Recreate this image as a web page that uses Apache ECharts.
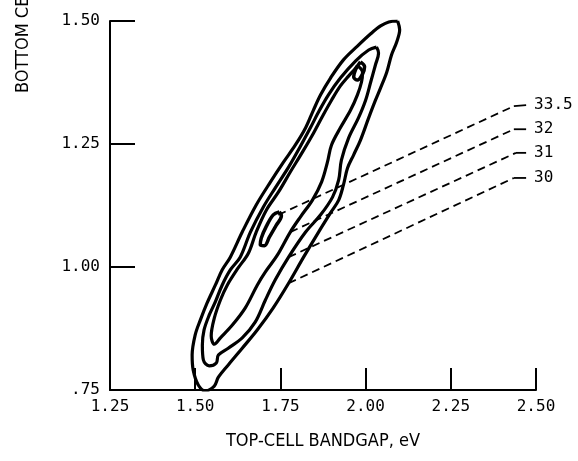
<!DOCTYPE html>
<html>
<head>
<meta charset="utf-8">
<script src="https://cdn.jsdelivr.net/npm/echarts@6/dist/echarts.min.js"></script>
<style>
html,body{margin:0;padding:0;background:#fff;}
#chart{width:578px;height:461px;}
</style>
</head>
<body>
<div id="chart"></div>
<script>
// Axis ticks
const xTickValues = [1.25, 1.50, 1.75, 2.00, 2.25, 2.50];
const xTickLabels = ['1.25', '1.50', '1.75', '2.00', '2.25', '2.50'];
const yTickValues = [0.75, 1.00, 1.25, 1.50];
const yTickLabels = ['.75', '1.00', '1.25', '1.50'];

// Efficiency contour levels (%)
const levels = ['33.5', '32', '31', '30'];

// Contour 30 (outer) [top-cell eV, bottom-cell eV]
const contour30 = [[2.094,1.500],[2.100,1.482],[2.091,1.457],[2.076,1.431],[2.062,1.396],[2.044,1.364],[2.029,1.339],[2.009,1.303],[1.985,1.258],[1.965,1.228],[1.947,1.201],[1.935,1.167],[1.921,1.136],[1.897,1.110],[1.862,1.071],[1.818,1.020],[1.774,0.967],[1.729,0.917],[1.682,0.872],[1.638,0.835],[1.597,0.801],[1.568,0.776],[1.556,0.758],[1.529,0.748],[1.509,0.760],[1.494,0.791],[1.491,0.821],[1.500,0.862],[1.515,0.892],[1.535,0.927],[1.559,0.963],[1.579,0.994],[1.603,1.020],[1.638,1.071],[1.679,1.126],[1.721,1.173],[1.759,1.213],[1.794,1.248],[1.824,1.283],[1.847,1.319],[1.868,1.350],[1.897,1.384],[1.935,1.421],[1.976,1.449],[2.015,1.474],[2.044,1.490],[2.068,1.498],[2.094,1.500]];

// Contour 31
const contour31 = [[2.032,1.447],[2.038,1.435],[2.029,1.411],[2.015,1.376],[2.000,1.339],[1.979,1.303],[1.950,1.262],[1.929,1.217],[1.921,1.177],[1.903,1.142],[1.868,1.106],[1.824,1.071],[1.774,1.020],[1.735,0.974],[1.706,0.933],[1.676,0.888],[1.638,0.856],[1.597,0.835],[1.568,0.821],[1.562,0.805],[1.541,0.799],[1.524,0.811],[1.521,0.841],[1.526,0.872],[1.541,0.902],[1.559,0.929],[1.579,0.963],[1.603,0.994],[1.632,1.020],[1.662,1.071],[1.700,1.122],[1.735,1.161],[1.774,1.203],[1.806,1.242],[1.838,1.283],[1.865,1.319],[1.891,1.350],[1.926,1.384],[1.971,1.419],[2.009,1.441],[2.032,1.447]];

// Contour 32
const contour32 = [[1.976,1.409],[1.991,1.396],[1.988,1.376],[1.976,1.350],[1.956,1.319],[1.926,1.283],[1.900,1.248],[1.888,1.213],[1.871,1.173],[1.844,1.136],[1.809,1.102],[1.779,1.071],[1.741,1.024],[1.706,0.990],[1.682,0.963],[1.647,0.917],[1.609,0.882],[1.574,0.856],[1.556,0.843],[1.547,0.860],[1.556,0.896],[1.574,0.933],[1.594,0.963],[1.626,0.998],[1.656,1.028],[1.679,1.071],[1.709,1.116],[1.744,1.152],[1.779,1.193],[1.815,1.234],[1.847,1.272],[1.874,1.307],[1.900,1.339],[1.926,1.368],[1.950,1.388],[1.968,1.402],[1.976,1.409]];

// Contour 33.5 (two small islands)
const contour335a = [[1.747,1.112],[1.753,1.104],[1.738,1.085],[1.718,1.061],[1.703,1.043],[1.691,1.045],[1.694,1.059],[1.709,1.083],[1.729,1.106],[1.747,1.112]];
const contour335b = [[1.985,1.417],[1.997,1.407],[1.991,1.392],[1.976,1.380],[1.965,1.386],[1.971,1.402],[1.985,1.417]];

// Leader lines: [start on contour, end of dashed part], then short solid tail
const leader335 = [[1.744,1.106],[2.435,1.327]];
const leader32 = [[1.779,1.071],[2.435,1.280]];
const leader31 = [[1.774,1.020],[2.441,1.232]];
const leader30 = [[1.774,0.967],[2.435,1.181]];
const tail335 = [[2.435,1.327],[2.471,1.329]];
const tail32 = [[2.435,1.280],[2.471,1.280]];
const tail31 = [[2.441,1.232],[2.471,1.232]];
const tail30 = [[2.435,1.181],[2.471,1.181]];

const monoFont = '"DejaVu Sans Mono", "Liberation Mono", monospace';
const titleFont = '"Liberation Sans Narrow", "DejaVu Sans Condensed", "DejaVu Sans", sans-serif';

function contourSeries(data, width) {
  return {
    type: 'line', data: data, showSymbol: false, smooth: 0.35,
    lineStyle: { color: '#000', width: width }, silent: true, z: 3
  };
}
function leaderSeries(data) {
  return {
    type: 'line', data: data, showSymbol: false,
    lineStyle: { color: '#000', width: 1.8, type: [8, 5] }, silent: true, z: 2
  };
}
function tailSeries(data, label) {
  return {
    type: 'line', data: data, showSymbol: false,
    lineStyle: { color: '#000', width: 1.8 }, silent: true, z: 2,
    endLabel: { show: true, formatter: label, distance: 8, color: '#000',
      fontFamily: monoFont, fontSize: 16 }
  };
}

const chart = echarts.init(document.getElementById('chart'), null, { renderer: 'canvas' });
chart.setOption({
  animation: false,
  backgroundColor: '#fff',
  grid: { left: 110, right: 42, top: 21, bottom: 71, containLabel: false },
  xAxis: {
    type: 'value', min: 1.25, max: 2.5, interval: 0.25,
    name: 'TOP-CELL BANDGAP, eV', nameLocation: 'middle', nameGap: 42,
    nameTextStyle: { fontFamily: titleFont, fontSize: 18, color: '#000' },
    axisLine: { lineStyle: { color: '#000', width: 2 } },
    axisTick: { inside: true, length: 22, lineStyle: { color: '#000', width: 2 } },
    axisLabel: { color: '#000', fontFamily: monoFont, fontSize: 16, margin: 9,
      formatter: v => { const i = xTickValues.findIndex(t => Math.abs(t - v) < 1e-6); return i >= 0 ? xTickLabels[i] : ''; } },
    splitLine: { show: false }
  },
  yAxis: {
    type: 'value', min: 0.75, max: 1.5, interval: 0.25,
    axisLine: { lineStyle: { color: '#000', width: 2 } },
    axisTick: { inside: true, length: 25, lineStyle: { color: '#000', width: 2 } },
    axisLabel: { color: '#000', fontFamily: monoFont, fontSize: 16, margin: 10,
      formatter: v => { const i = yTickValues.findIndex(t => Math.abs(t - v) < 1e-6); return i >= 0 ? yTickLabels[i] : ''; } },
    splitLine: { show: false }
  },
  graphic: [{
    type: 'text', x: 23, y: 93, rotation: Math.PI / 2,
    style: { text: 'BOTTOM CELL BANDGAP, eV', fill: '#000', font: '18px ' + titleFont,
      align: 'left', verticalAlign: 'middle' }
  }],
  series: [
    contourSeries(contour30, 3.2),
    contourSeries(contour31, 3.2),
    contourSeries(contour32, 3.2),
    contourSeries(contour335a, 3.5),
    contourSeries(contour335b, 3.5),
    leaderSeries(leader335), leaderSeries(leader32), leaderSeries(leader31), leaderSeries(leader30),
    tailSeries(tail335, levels[0]), tailSeries(tail32, levels[1]),
    tailSeries(tail31, levels[2]), tailSeries(tail30, levels[3])
  ]
});
</script>
</body>
</html>
